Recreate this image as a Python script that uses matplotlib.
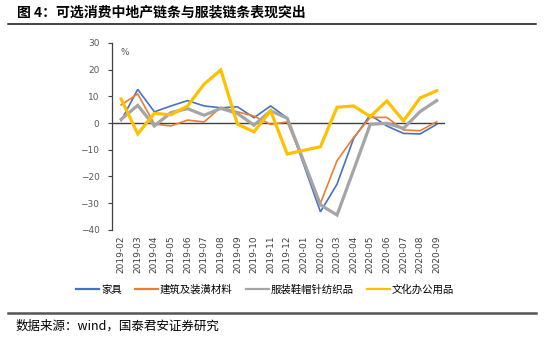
import numpy as np
import matplotlib
matplotlib.use("Agg")
import matplotlib.pyplot as plt
from matplotlib.lines import Line2D

plt.rcParams['font.family'] = ['Noto Sans CJK SC', 'DejaVu Sans']

# 月份（2020-01 无单月数据）
meses = ["2019-02", "2019-03", "2019-04", "2019-05", "2019-06", "2019-07",
         "2019-08", "2019-09", "2019-10", "2019-11", "2019-12", "2020-01",
         "2020-02", "2020-03", "2020-04", "2020-05", "2020-06", "2020-07",
         "2020-08", "2020-09"]

jiaju = [0.9, 12.6, 4.2, 6.4, 8.4, 6.4, 5.7, 6.1, 2.0, 6.4, 1.9, np.nan,
         -33.3, -22.9, -5.8, 3.0, -1.1, -3.9, -4.1, -0.5]
jiancai = [6.8, 10.9, -0.4, -1.1, 1.1, 0.4, 5.9, 4.2, 2.6, -0.5, 0.4, np.nan,
           -30.1, -14.1, -5.4, 2.1, 2.1, -2.6, -2.9, 0.5]
fuzhuang = [1.4, 6.6, -1.1, 3.9, 5.4, 2.9, 5.5, 3.6, -0.8, 4.6, 1.8, np.nan,
            -30.7, -34.5, -17.6, -0.5, -0.1, -2.0, 4.3, 8.4]
wenhua = [9.0, -4.1, 3.6, 3.1, 6.4, 14.6, 19.9, -0.4, -3.3, 4.6, -11.6, np.nan,
          -8.9, 5.9, 6.4, 2.4, 8.3, 0.8, 9.4, 12.1]

series = [
    ("家具", jiaju, "#4472C4", 1.2),
    ("建筑及装潢材料", jiancai, "#ED7D31", 1.2),
    ("服装鞋帽针纺织品", fuzhuang, "#A5A5A5", 2.3),
    ("文化办公用品", wenhua, "#FFC000", 2.3),
]

fig = plt.figure(figsize=(5.5, 3.38), dpi=100)
ax = fig.add_axes([112 / 550, 1 - 229.7 / 338, 333 / 550, 186.7 / 338])

x = np.arange(len(meses))
for nombre, vals, color, lw in series:
    v = np.array(vals, dtype=float)
    ok = ~np.isnan(v)
    # 缺失月份直接连线
    ax.plot(x[ok], v[ok], color=color, lw=lw, solid_joinstyle="miter")

ax.axhline(0, color="#404040", lw=1.0, zorder=0)

ax.set_xlim(-0.55, 19.5)
ax.set_ylim(-40, 30)
ax.set_yticks(range(-40, 31, 10))
ax.set_xticks(x)
ax.set_xticklabels(meses, rotation=90, fontsize=6.5, color="#404040",
                   family="DejaVu Sans")
ax.tick_params(axis="x", length=0, pad=4)
ax.tick_params(axis="y", labelsize=6.5, labelcolor="#595959", length=3,
               width=0.8, color="#404040", pad=6)
for lab in ax.get_yticklabels():
    lab.set_family("DejaVu Sans")

for s in ["top", "right", "bottom"]:
    ax.spines[s].set_visible(False)
ax.spines["left"].set_color("#404040")
ax.spines["left"].set_linewidth(0.9)

ax.text(0.025, 0.975, "%", transform=ax.transAxes, fontsize=6.5,
        color="#595959", va="top", ha="left", family="DejaVu Sans")

# 图例
handles = [Line2D([0], [0], color=c, lw=1.6) for _, _, c, _ in series]
fig.legend(handles, [s[0] for s in series], loc="center",
           bbox_to_anchor=(265 / 550, 1 - 289.5 / 338), ncol=4,
           frameon=False, fontsize=7.5, handlelength=2.2, handletextpad=0.15,
           columnspacing=1.3)

# 标题与分隔线
fig.text(17 / 550, 1 - 12.5 / 338, "图 4：可选消费中地产链条与服装链条表现突出",
         fontsize=10, fontweight="bold", va="center", ha="left")
fig.add_artist(Line2D([8 / 550, 535.5 / 550], [1 - 24 / 338, 1 - 24 / 338],
                      color="#111111", lw=1.1))
fig.add_artist(Line2D([8 / 550, 535.5 / 550], [1 - 313.3 / 338, 1 - 313.3 / 338],
                      color="#555555", lw=1.8))
fig.text(16 / 550, 1 - 326 / 338, "数据来源：wind，国泰君安证券研究",
         fontsize=9, va="center", ha="left")

fig.savefig("out.png", dpi=100)
